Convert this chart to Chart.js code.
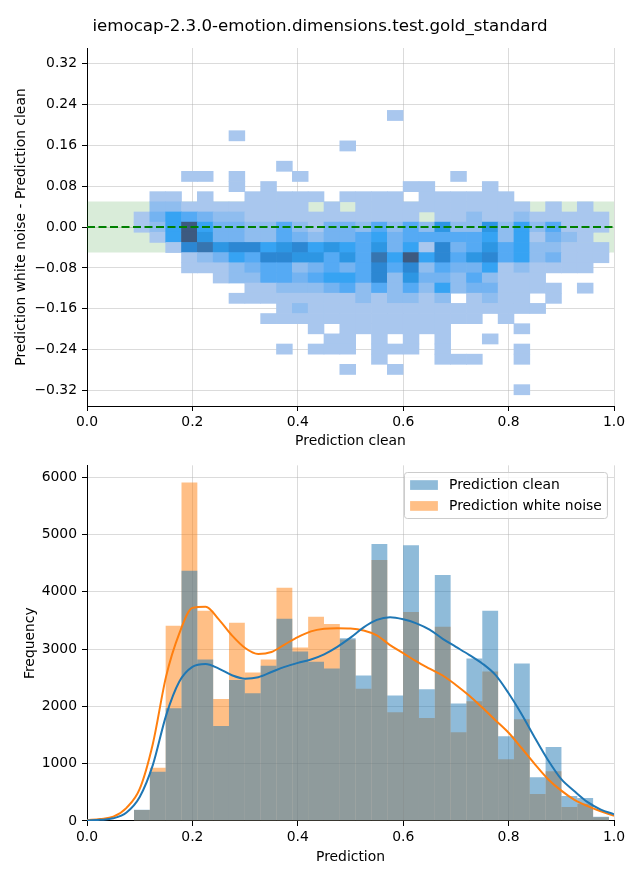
<!DOCTYPE html>
<html>
<head>
<meta charset="utf-8">
<script src="https://cdn.jsdelivr.net/npm/chart.js@4.4.0/dist/chart.umd.min.js"></script>
<style>
  html, body { margin: 0; padding: 0; background: #fff; }
  #wrap { position: relative; width: 640px; height: 880px; }
  #top { position: absolute; left: 0; top: 0; }
  #bottom { position: absolute; left: 0; top: 452px; }
</style>
</head>
<body>
<div id="wrap">
  <canvas id="top" width="640" height="452"></canvas>
  <canvas id="bottom" width="640" height="428"></canvas>
</div>
<script>
const TITLE = "iemocap-2.3.0-emotion.dimensions.test.gold_standard";

// shared x bins (prediction clean)
const BIN_START = 0.0892;
const BIN_WIDTH = 0.03004;

// 2D histogram: y bins, first row is the top one
const DIFF_BIN_TOP = 0.228;
const DIFF_BIN_HEIGHT = 0.01986;
// one digit per x bin = cell count level (0 = empty)
const HEAT_ROWS = [
  "000000000000000010000000000000",
  "000000000000000000000000000000",
  "000000100000000000000000000000",
  "000000000000010000000000000000",
  "000000000000000000000000000000",
  "000000000100000000000000000000",
  "000110100010000000001000000000",
  "000000101000000001100010000000",
  "011010011111011110111111000000",
  "022111111110101111111111101010",
  "135432211111111111011211211111",
  "125953322421332424262262524111",
  "015963322432334534444452513210",
  "001786775675654635173464522111",
  "000123547766464859574674523111",
  "000111234423434747243351211110",
  "000001224434554726332421110000",
  "000000011222342424252331111010",
  "000000111111112122120121101000",
  "000000000121111111111111110000",
  "000000001111111111111101000000",
  "000000000001011111110000100000",
  "000000000000110101010010000000",
  "000000000101110111010000100000",
  "000000000000000100011100100000",
  "000000000000010010000000000000",
  "000000000000000000000000000000",
  "000000000000000000000000100000"
];
const BAND_LOW = -0.05;
const BAND_HIGH = 0.05;

// 1D histograms (same bins)
const CLEAN_COUNTS = [195, 860, 1970, 4370, 2820, 1660, 2460, 2230, 2710, 3530, 2960, 2780, 2660, 3190, 2540,
  4835, 2190, 4815, 2300, 4295, 2050, 2835, 3670, 1480, 2750, 765, 1290, 435, 400, 75];
const NOISE_COUNTS = [190, 930, 3410, 5910, 3670, 2130, 3460, 2590, 2820, 4070, 3030, 3565, 3440, 3170, 2310,
  4555, 1900, 3650, 1800, 3390, 1550, 2090, 2610, 1080, 1775, 470, 870, 245, 300, 65];

// KDE curves (scaled to counts)
const KDE_X = [0, 0.025, 0.05, 0.075, 0.1, 0.125, 0.15, 0.175, 0.2, 0.225, 0.25, 0.275, 0.3, 0.325, 0.35,
  0.375, 0.4, 0.425, 0.45, 0.475, 0.5, 0.525, 0.55, 0.575, 0.6, 0.625, 0.65, 0.675, 0.7, 0.725, 0.75,
  0.775, 0.8, 0.825, 0.85, 0.875, 0.9, 0.925, 0.95, 0.975, 1.0];
const KDE_CLEAN = [10, 20, 47, 150, 420, 980, 1840, 2430, 2690, 2740, 2660, 2545, 2485, 2510, 2600,
  2690, 2760, 2820, 2910, 3040, 3200, 3380, 3510, 3555, 3520, 3450, 3340, 3180, 3040, 2900, 2750,
  2550, 2230, 1860, 1450, 1060, 730, 520, 330, 200, 117];
const KDE_NOISE = [15, 35, 75, 230, 560, 1350, 2520, 3270, 3720, 3740, 3520, 3240, 3020, 2915, 2950,
  3080, 3210, 3310, 3355, 3365, 3360, 3325, 3240, 3070, 2930, 2785, 2660, 2540, 2375, 2190, 1980,
  1760, 1540, 1270, 990, 730, 530, 370, 260, 170, 90];

const X_TICKS = [0, 0.2, 0.4, 0.6, 0.8, 1.0];
const DIFF_TICKS = [-0.32, -0.24, -0.16, -0.08, 0, 0.08, 0.16, 0.24, 0.32];
const FREQ_TICKS = [0, 1000, 2000, 3000, 4000, 5000, 6000];

const HEAT_COLORS = ['#a9c7ee', '#8fbdef', '#74b3f1', '#55aaf4', '#36a3f3', '#2d96e3', '#2c87d3', '#3675b0', '#3d5a80'];

Chart.defaults.font.family = "'DejaVu Sans', sans-serif";
Chart.defaults.font.size = 13.9;
Chart.defaults.color = '#000';

const GRID = { color: 'rgba(176,176,176,0.45)', lineWidth: 1, tickColor: '#000', tickLength: 5, tickWidth: 1, offset: false };
const BORDER = { display: true, color: '#000', width: 1 };

const binCenter = (i) => BIN_START + (i + 0.5) * BIN_WIDTH;
const minus = (s) => s.replace('-', '\u2212');

const heatCells = [];
HEAT_ROWS.forEach((row, r) => {
  const hi = DIFF_BIN_TOP - r * DIFF_BIN_HEIGHT;
  const lo = hi - DIFF_BIN_HEIGHT;
  [...row].forEach((ch, c) => {
    const n = Number(ch);
    if (n) heatCells.push({ x: binCenter(c), y: [lo, hi], n });
  });
});

const suptitle = {
  id: 'suptitle',
  afterDraw(chart) {
    const ctx = chart.ctx;
    ctx.save();
    ctx.font = "16.67px 'DejaVu Sans', sans-serif";
    ctx.fillStyle = '#000';
    ctx.textAlign = 'center';
    ctx.textBaseline = 'middle';
    ctx.fillText(TITLE, chart.width / 2, 27);
    ctx.restore();
  }
};

const legendBox = {
  id: 'legendBox',
  afterDraw(chart) {
    const { ctx, chartArea } = chart;
    const items = chart.data.datasets.filter((d) => d.type === 'bar');
    const fs = 13.9, pad = 5.6, hw = 27.8, hh = 9.7, tp = 11.1, gap = 7;
    ctx.save();
    ctx.font = fs + "px 'DejaVu Sans', sans-serif";
    const tw = Math.max(...items.map((d) => ctx.measureText(d.label).width));
    const w = pad * 2 + hw + tp + tw;
    const h = pad * 2 + fs * items.length + gap * (items.length - 1);
    const x = Math.round(chartArea.right - 7 - w) + 0.5;
    const y = Math.round(chartArea.top + 7) + 0.5;
    ctx.beginPath();
    ctx.roundRect(x, y, w, h, 2.8);
    ctx.fillStyle = 'rgba(255,255,255,0.8)';
    ctx.fill();
    ctx.strokeStyle = '#cccccc';
    ctx.lineWidth = 1;
    ctx.stroke();
    items.forEach((d, i) => {
      const cy = y + pad + fs / 2 + i * (fs + gap);
      ctx.fillStyle = d.backgroundColor;
      ctx.fillRect(x + pad, cy - hh / 2, hw, hh);
      ctx.fillStyle = '#000';
      ctx.textAlign = 'left';
      ctx.textBaseline = 'middle';
      ctx.fillText(d.label, x + pad + hw + tp, cy + 0.5);
    });
    ctx.restore();
  }
};

new Chart(document.getElementById('top').getContext('2d'), {
  type: 'bar',
  data: {
    datasets: [
      {
        type: 'line',
        data: [{ x: 0, y: 0 }, { x: 1, y: 0 }],
        borderColor: '#008000',
        borderWidth: 2.2,
        borderDash: [8, 3.5],
        pointRadius: 0,
        order: 0
      },
      {
        type: 'bar',
        data: heatCells,
        backgroundColor: (c) => (c.raw ? HEAT_COLORS[c.raw.n - 1] : '#000'),
        borderWidth: 0,
        barPercentage: 1,
        categoryPercentage: 1,
        grouped: false,
        order: 1
      },
      {
        type: 'line',
        data: [{ x: 0, y: BAND_HIGH }, { x: 1, y: BAND_HIGH }],
        borderColor: 'rgba(0,0,0,0)',
        pointRadius: 0,
        fill: '+1',
        backgroundColor: 'rgba(0,128,0,0.15)',
        order: 2
      },
      {
        type: 'line',
        data: [{ x: 0, y: BAND_LOW }, { x: 1, y: BAND_LOW }],
        borderColor: 'rgba(0,0,0,0)',
        pointRadius: 0,
        fill: false,
        order: 3
      }
    ]
  },
  options: {
    responsive: false,
    animation: false,
    devicePixelRatio: 1,
    layout: { padding: { top: 48, right: 26, left: 0, bottom: 0 } },
    plugins: { legend: { display: false }, tooltip: { enabled: false } },
    scales: {
      x: {
        type: 'linear', min: 0, max: 1, offset: false, z: 1,
        grid: GRID, border: BORDER,
        afterBuildTicks: (s) => { s.ticks = X_TICKS.map((value) => ({ value })); },
        afterFit: (s) => { s.height = 46; },
        ticks: { padding: 3, maxRotation: 0, autoSkip: false, callback: (v) => v.toFixed(1) },
        title: { display: true, text: 'Prediction clean', padding: { top: 0, bottom: 2.2 } }
      },
      y: {
        type: 'linear', min: -0.35, max: 0.35, z: 1,
        grid: GRID, border: BORDER,
        afterBuildTicks: (s) => { s.ticks = DIFF_TICKS.map((value) => ({ value })); },
        afterFit: (s) => { s.width = 87; },
        ticks: { padding: 5, autoSkip: false, callback: (v) => minus(Math.abs(v) < 1e-9 ? '0.00' : v.toFixed(2)) },
        title: { display: true, text: 'Prediction white noise - Prediction clean', padding: { top: 12.6, bottom: 0 } }
      }
    }
  },
  plugins: [suptitle]
});

new Chart(document.getElementById('bottom').getContext('2d'), {
  type: 'bar',
  data: {
    datasets: [
      {
        type: 'line',
        label: 'KDE clean',
        data: KDE_X.map((x, i) => ({ x, y: KDE_CLEAN[i] })),
        borderColor: '#1f77b4',
        borderWidth: 2,
        pointRadius: 0,
        cubicInterpolationMode: 'monotone',
        order: 0
      },
      {
        type: 'line',
        label: 'KDE white noise',
        data: KDE_X.map((x, i) => ({ x, y: KDE_NOISE[i] })),
        borderColor: '#ff7f0e',
        borderWidth: 2,
        pointRadius: 0,
        cubicInterpolationMode: 'monotone',
        order: 0
      },
      {
        type: 'bar',
        label: 'Prediction clean',
        data: CLEAN_COUNTS.map((y, i) => ({ x: binCenter(i), y })),
        backgroundColor: 'rgba(31,119,180,0.5)',
        borderWidth: 0,
        barPercentage: 1,
        categoryPercentage: 1,
        grouped: false,
        inflateAmount: 0,
        order: 1
      },
      {
        type: 'bar',
        label: 'Prediction white noise',
        data: NOISE_COUNTS.map((y, i) => ({ x: binCenter(i), y })),
        backgroundColor: 'rgba(255,127,14,0.5)',
        borderWidth: 0,
        barPercentage: 1,
        categoryPercentage: 1,
        grouped: false,
        inflateAmount: 0,
        order: 2
      }
    ]
  },
  options: {
    responsive: false,
    animation: false,
    devicePixelRatio: 1,
    layout: { padding: { top: 12, right: 26, left: 0, bottom: 0 } },
    plugins: { legend: { display: false }, tooltip: { enabled: false } },
    scales: {
      x: {
        type: 'linear', min: 0, max: 1, offset: false, z: 1,
        grid: GRID, border: BORDER,
        afterBuildTicks: (s) => { s.ticks = X_TICKS.map((value) => ({ value })); },
        afterFit: (s) => { s.height = 59; },
        ticks: { padding: 3, maxRotation: 0, autoSkip: false, callback: (v) => v.toFixed(1) },
        title: { display: true, text: 'Prediction', padding: { top: 0, bottom: 13.8 } }
      },
      y: {
        type: 'linear', min: 0, max: 6208, z: 1,
        grid: GRID, border: BORDER,
        afterBuildTicks: (s) => { s.ticks = FREQ_TICKS.map((value) => ({ value })); },
        afterFit: (s) => { s.width = 87; },
        ticks: { padding: 5, autoSkip: false, callback: (v) => String(v) },
        title: { display: true, text: 'Frequency', padding: { top: 21.6, bottom: 0 } }
      }
    }
  },
  plugins: [legendBox]
});
</script>
</body>
</html>
